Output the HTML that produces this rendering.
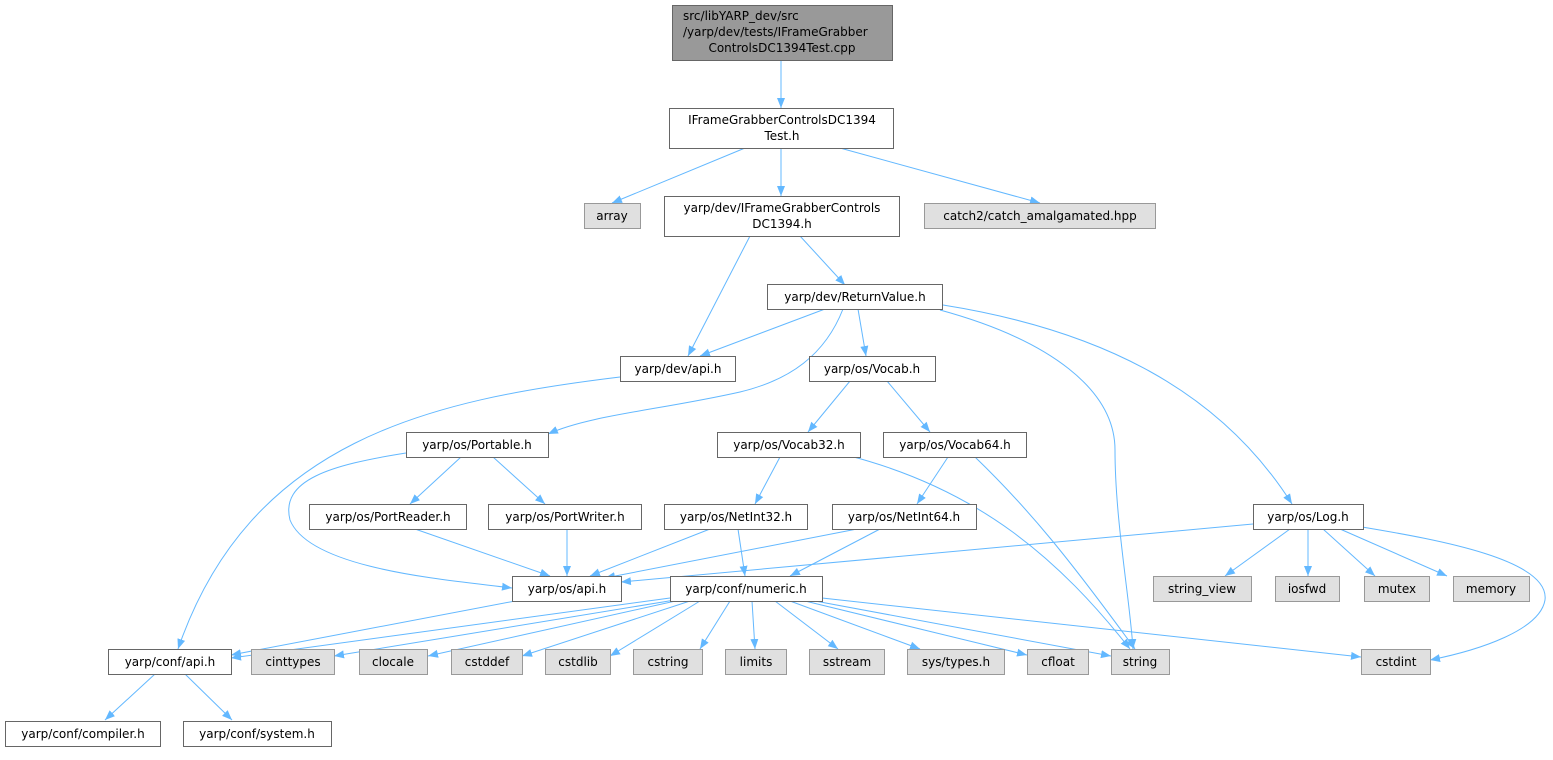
<!DOCTYPE html>
<html><head><meta charset="utf-8"><style>
body{margin:0;background:#fff;}
svg text{font-family:"DejaVu Sans","Liberation Sans",sans-serif;font-size:12px;fill:#000;}
</style></head><body>
<svg width="1553" height="755" viewBox="0 0 1553 755" xmlns="http://www.w3.org/2000/svg">
<defs><marker id="a" viewBox="0 0 10 10" refX="10" refY="5" markerWidth="10" markerHeight="10" markerUnits="userSpaceOnUse" orient="auto"><path d="M0,1 L10,5 L0,9 z" fill="#63b8ff"/></marker></defs>
<g fill="none" stroke="#63b8ff" stroke-width="1" marker-end="url(#a)">
<path d="M781,60 L781,108"/>
<path d="M745,148 L612,203"/>
<path d="M781,148 L781,196"/>
<path d="M840,148 L1040,203"/>
<path d="M750,236 L688,356"/>
<path d="M800,236 L845,285"/>
<path d="M825,309 L700,356"/>
<path d="M843,309 C825,355 790,380 740,392 C660,410 590,415 548,434"/>
<path d="M858,309 L866,356"/>
<path d="M940,310 C1050,340 1115,390 1115,450 C1115,520 1130,600 1133,649"/>
<path d="M943,305 C1100,330 1220,390 1292,504"/>
<path d="M620,377 C430,400 250,440 178,649"/>
<path d="M406,453 C330,465 280,480 290,520 C310,570 450,580 512,588"/>
<path d="M461,457 L410,504"/>
<path d="M493,457 L545,504"/>
<path d="M850,381 L808,432"/>
<path d="M887,381 L930,432"/>
<path d="M780,457 L755,504"/>
<path d="M948,457 L917,504"/>
<path d="M850,456 C980,490 1060,560 1130,649"/>
<path d="M975,457 C1030,510 1070,560 1135,649"/>
<path d="M415,529 L550,576"/>
<path d="M567,529 L567,576"/>
<path d="M710,529 L590,576"/>
<path d="M738,529 L745,576"/>
<path d="M857,529 L605,578"/>
<path d="M880,529 L790,576"/>
<path d="M1253,524 L621,582"/>
<path d="M1290,529 L1225,576"/>
<path d="M1308,529 L1308,576"/>
<path d="M1323,529 L1375,576"/>
<path d="M1340,529 L1447,576"/>
<path d="M1362,527 C1440,540 1550,560 1545,600 C1540,630 1480,650 1430,660"/>
<path d="M515,601 L231,655"/>
<path d="M670,598 L231,658"/>
<path d="M675,600 L334,656"/>
<path d="M680,600 L428,656"/>
<path d="M690,601 L522,656"/>
<path d="M700,601 L610,656"/>
<path d="M730,601 L700,649"/>
<path d="M752,601 L755,649"/>
<path d="M775,601 L838,649"/>
<path d="M790,601 L920,649"/>
<path d="M805,601 L1027,655"/>
<path d="M815,601 L1111,656"/>
<path d="M822,598 L1361,657"/>
<path d="M155,674 L105,720"/>
<path d="M185,674 L232,720"/>
</g>
<g stroke-width="1">
<rect x="672.5" y="5.5" width="220" height="55" fill="#999" stroke="#666"/>
<rect x="669.5" y="108.5" width="224" height="40" fill="#fff" stroke="#666"/>
<rect x="584.5" y="203.5" width="56" height="25" fill="#e0e0e0" stroke="#999"/>
<rect x="664.5" y="196.5" width="235" height="40" fill="#fff" stroke="#666"/>
<rect x="924.5" y="203.5" width="231" height="25" fill="#e0e0e0" stroke="#999"/>
<rect x="767.5" y="284.5" width="175" height="25" fill="#fff" stroke="#666"/>
<rect x="620.5" y="356.5" width="115" height="25" fill="#fff" stroke="#666"/>
<rect x="809.5" y="356.5" width="126" height="25" fill="#fff" stroke="#666"/>
<rect x="406.5" y="432.5" width="142" height="25" fill="#fff" stroke="#666"/>
<rect x="717.5" y="432.5" width="143" height="25" fill="#fff" stroke="#666"/>
<rect x="883.5" y="432.5" width="143" height="25" fill="#fff" stroke="#666"/>
<rect x="309.5" y="504.5" width="157" height="25" fill="#fff" stroke="#666"/>
<rect x="488.5" y="504.5" width="153" height="25" fill="#fff" stroke="#666"/>
<rect x="664.5" y="504.5" width="143" height="25" fill="#fff" stroke="#666"/>
<rect x="832.5" y="504.5" width="144" height="25" fill="#fff" stroke="#666"/>
<rect x="1253.5" y="504.5" width="110" height="25" fill="#fff" stroke="#666"/>
<rect x="512.5" y="576.5" width="109" height="25" fill="#fff" stroke="#666"/>
<rect x="670.5" y="576.5" width="152" height="25" fill="#fff" stroke="#666"/>
<rect x="1153.5" y="576.5" width="98" height="25" fill="#e0e0e0" stroke="#999"/>
<rect x="1275.5" y="576.5" width="64" height="25" fill="#e0e0e0" stroke="#999"/>
<rect x="1364.5" y="576.5" width="65" height="25" fill="#e0e0e0" stroke="#999"/>
<rect x="1453.5" y="576.5" width="76" height="25" fill="#e0e0e0" stroke="#999"/>
<rect x="108.5" y="649.5" width="123" height="25" fill="#fff" stroke="#666"/>
<rect x="251.5" y="649.5" width="83" height="25" fill="#e0e0e0" stroke="#999"/>
<rect x="359.5" y="649.5" width="68" height="25" fill="#e0e0e0" stroke="#999"/>
<rect x="451.5" y="649.5" width="71" height="25" fill="#e0e0e0" stroke="#999"/>
<rect x="545.5" y="649.5" width="65" height="25" fill="#e0e0e0" stroke="#999"/>
<rect x="633.5" y="649.5" width="69" height="25" fill="#e0e0e0" stroke="#999"/>
<rect x="725.5" y="649.5" width="61" height="25" fill="#e0e0e0" stroke="#999"/>
<rect x="809.5" y="649.5" width="75" height="25" fill="#e0e0e0" stroke="#999"/>
<rect x="907.5" y="649.5" width="97" height="25" fill="#e0e0e0" stroke="#999"/>
<rect x="1027.5" y="649.5" width="61" height="25" fill="#e0e0e0" stroke="#999"/>
<rect x="1111.5" y="649.5" width="58" height="25" fill="#e0e0e0" stroke="#999"/>
<rect x="1361.5" y="649.5" width="69" height="25" fill="#e0e0e0" stroke="#999"/>
<rect x="5.5" y="721.5" width="155" height="25" fill="#fff" stroke="#666"/>
<rect x="183.5" y="721.5" width="148" height="25" fill="#fff" stroke="#666"/>
</g>
<g text-anchor="middle">
<text x="683" y="20" text-anchor="start">src/libYARP_dev/src</text>
<text x="683" y="36" text-anchor="start">/yarp/dev/tests/IFrameGrabber</text>
<text x="782" y="52">ControlsDC1394Test.cpp</text>
<text x="782" y="124">IFrameGrabberControlsDC1394</text>
<text x="782" y="140">Test.h</text>
<text x="612" y="220">array</text>
<text x="782" y="212">yarp/dev/IFrameGrabberControls</text>
<text x="782" y="228">DC1394.h</text>
<text x="1040" y="220">catch2/catch_amalgamated.hpp</text>
<text x="855" y="301">yarp/dev/ReturnValue.h</text>
<text x="678" y="373">yarp/dev/api.h</text>
<text x="872" y="373">yarp/os/Vocab.h</text>
<text x="477" y="449">yarp/os/Portable.h</text>
<text x="789" y="449">yarp/os/Vocab32.h</text>
<text x="955" y="449">yarp/os/Vocab64.h</text>
<text x="388" y="521">yarp/os/PortReader.h</text>
<text x="565" y="521">yarp/os/PortWriter.h</text>
<text x="736" y="521">yarp/os/NetInt32.h</text>
<text x="904" y="521">yarp/os/NetInt64.h</text>
<text x="1308" y="521">yarp/os/Log.h</text>
<text x="567" y="593">yarp/os/api.h</text>
<text x="746" y="593">yarp/conf/numeric.h</text>
<text x="1202" y="593">string_view</text>
<text x="1307" y="593">iosfwd</text>
<text x="1397" y="593">mutex</text>
<text x="1491" y="593">memory</text>
<text x="170" y="666">yarp/conf/api.h</text>
<text x="293" y="666">cinttypes</text>
<text x="393" y="666">clocale</text>
<text x="487" y="666">cstddef</text>
<text x="578" y="666">cstdlib</text>
<text x="668" y="666">cstring</text>
<text x="756" y="666">limits</text>
<text x="847" y="666">sstream</text>
<text x="956" y="666">sys/types.h</text>
<text x="1058" y="666">cfloat</text>
<text x="1140" y="666">string</text>
<text x="1396" y="666">cstdint</text>
<text x="83" y="738">yarp/conf/compiler.h</text>
<text x="257" y="738">yarp/conf/system.h</text>
</g>
</svg>
</body></html>
